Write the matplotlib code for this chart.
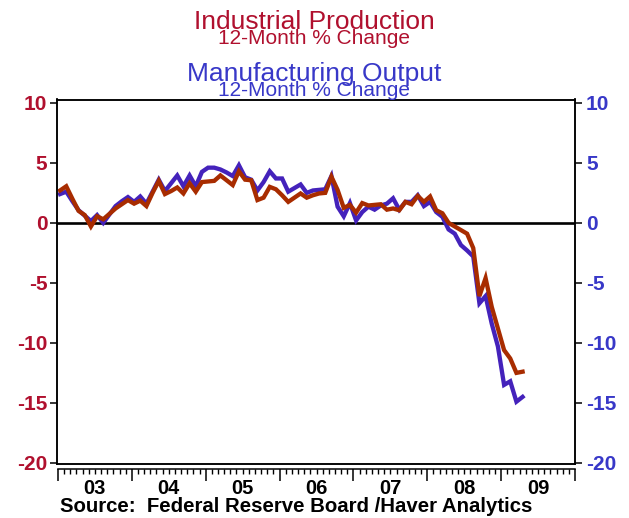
import matplotlib
matplotlib.use("Agg")
import matplotlib.pyplot as plt
from matplotlib.ticker import FixedLocator, FuncFormatter
import numpy as np

plt.rcParams['font.family'] = ['Liberation Sans', 'DejaVu Sans']
plt.rcParams['axes.unicode_minus'] = False

# Monthly data, Jan 2003 .. Apr 2009 (12-month % change)
start_year = 2003
industrial_production = [
    2.7, 3.05, 2.0, 1.0, 0.65, -0.3, 0.55, 0.3, 0.75, 1.2, 1.55, 1.9,      # 2003
    1.6, 1.85, 1.4, 2.5, 3.5, 2.4, 2.65, 2.95, 2.45, 3.3, 2.6, 3.4,        # 2004
    3.45, 3.5, 3.95, 3.55, 3.15, 4.3, 3.6, 3.55, 1.9, 2.1, 3.0, 2.8,       # 2005
    2.3, 1.75, 2.1, 2.45, 2.1, 2.3, 2.45, 2.5, 3.85, 2.75, 1.25, 1.5,      # 2006
    0.85, 1.65, 1.45, 1.5, 1.55, 1.1, 1.2, 1.05, 1.75, 1.55, 2.25, 1.75,   # 2007
    2.2, 1.05, 0.8, 0.0, -0.3, -0.6, -0.9, -2.1, -6.1, -4.6, -7.0, -8.8,   # 2008
    -10.6, -11.3, -12.5, -12.4,                                            # 2009
]
manufacturing_output = [
    2.4, 2.6, 1.8, 1.05, 0.6, 0.15, 0.65, 0.0, 0.7, 1.4, 1.8, 2.15,        # 2003
    1.75, 2.2, 1.6, 2.6, 3.6, 2.65, 3.3, 3.95, 3.05, 3.95, 3.05, 4.25,     # 2004
    4.6, 4.6, 4.45, 4.2, 3.9, 4.8, 3.8, 3.6, 2.7, 3.4, 4.3, 3.7,           # 2005
    3.7, 2.6, 2.9, 3.2, 2.5, 2.7, 2.75, 2.8, 3.9, 1.35, 0.55, 1.65,        # 2006
    0.2, 0.9, 1.35, 1.1, 1.45, 1.6, 2.05, 1.1, 1.75, 1.75, 2.3, 1.4,       # 2007
    1.75, 0.9, 0.5, -0.55, -0.9, -1.85, -2.3, -2.8, -6.7, -6.1, -8.4, -10.3,  # 2008
    -13.5, -13.2, -14.9, -14.5,                                            # 2009
]
year_labels = ['03', '04', '05', '06', '07', '08', '09']
y_ticks = [10, 5, 0, -5, -10, -15, -20]

title1 = "Industrial Production"
title2 = "Manufacturing Output"
subtitle = "12-Month % Change"
source = "Source:  Federal Reserve Board /Haver Analytics"

RED_TXT = '#B0102E'
BLUE_TXT = '#3838C8'
RED_LINE = '#A82C00'
BLUE_LINE = '#4422BB'

W, H = 629, 518
fig = plt.figure(figsize=(W / 100, H / 100), dpi=100)

def fx(px):
    return px / W

def fy(py):
    return 1 - py / H

left, right, top, bottom = 57, 575, 99.5, 463.5
ax = fig.add_axes([fx(left), fy(bottom), fx(right - left), (bottom - top) / H])

n = len(industrial_production)
x = start_year + (np.arange(n) + 0.5) / 12.0

ax.axhline(0, color='black', lw=1.9, zorder=1)
ax.plot(x, manufacturing_output, color=BLUE_LINE, lw=3.1, zorder=2,
        solid_joinstyle='miter')
ax.plot(x, industrial_production, color=RED_LINE, lw=3.1, zorder=3,
        solid_joinstyle='miter')

ax.set_xlim(2003, 2010)
ax.set_ylim(-20.05, 10.28)
ax.set_xticks([])
ax.set_yticks(y_ticks)
ax.tick_params(axis='y', direction='out', length=5, width=1.1, pad=2,
               labelsize=15, labelcolor=RED_TXT)
for lab in ax.get_yticklabels():
    lab.set_fontweight('bold')
for sp in ax.spines.values():
    sp.set_linewidth(1.1)

ax2 = ax.twinx()
ax2.set_ylim(ax.get_ylim())
ax2.set_yticks(y_ticks)
ax2.tick_params(axis='y', direction='out', length=5, width=1.1, pad=3,
                labelsize=15, labelcolor=BLUE_TXT)
for lab in ax2.get_yticklabels():
    lab.set_fontweight('bold')
for sp in ax2.spines.values():
    sp.set_linewidth(1.1)

# Detached time axis below the frame
axx = fig.add_axes([fx(58), fy(468.5), fx(575 - 58), 0.0001])
axx.patch.set_visible(False)
for name in ['top', 'left', 'right']:
    axx.spines[name].set_visible(False)
axx.spines['bottom'].set_linewidth(1.1)
axx.set_yticks([])
axx.set_xlim(2003, 2010)
years = np.arange(2003, 2011)
axx.xaxis.set_major_locator(FixedLocator(years))
axx.xaxis.set_major_formatter(FuncFormatter(lambda v, p: ''))
months = [2003 + k / 12.0 for k in range(0, 7 * 12 + 1) if k % 12 != 0]
axx.xaxis.set_minor_locator(FixedLocator(months))

def minor_fmt(v, p):
    for i, lab in enumerate(year_labels):
        if abs(v - (2003 + i + 0.5)) < 1e-6:
            return lab
    return ''

axx.xaxis.set_minor_formatter(FuncFormatter(minor_fmt))
axx.tick_params(axis='x', which='major', direction='out', length=8.6, width=1.1)
axx.tick_params(axis='x', which='minor', direction='out', length=3.6, width=1.0,
                pad=4, labelsize=14.5)
for lab in axx.get_xticklabels(minor=True):
    lab.set_fontweight('bold')

# Titles
cx = fx(314)
fig.text(cx, fy(29), title1, ha='center', va='baseline', fontsize=19, color=RED_TXT)
fig.text(cx, fy(44.5), subtitle, ha='center', va='baseline', fontsize=15, color=RED_TXT)
fig.text(cx, fy(80.5), title2, ha='center', va='baseline', fontsize=19, color=BLUE_TXT)
fig.text(cx, fy(95.5), subtitle, ha='center', va='baseline', fontsize=15, color=BLUE_TXT)

fig.text(fx(60), fy(512.5), source, ha='left', va='baseline', fontsize=14.7,
         fontweight='bold', color='black')

fig.savefig('out.png', dpi=100)
